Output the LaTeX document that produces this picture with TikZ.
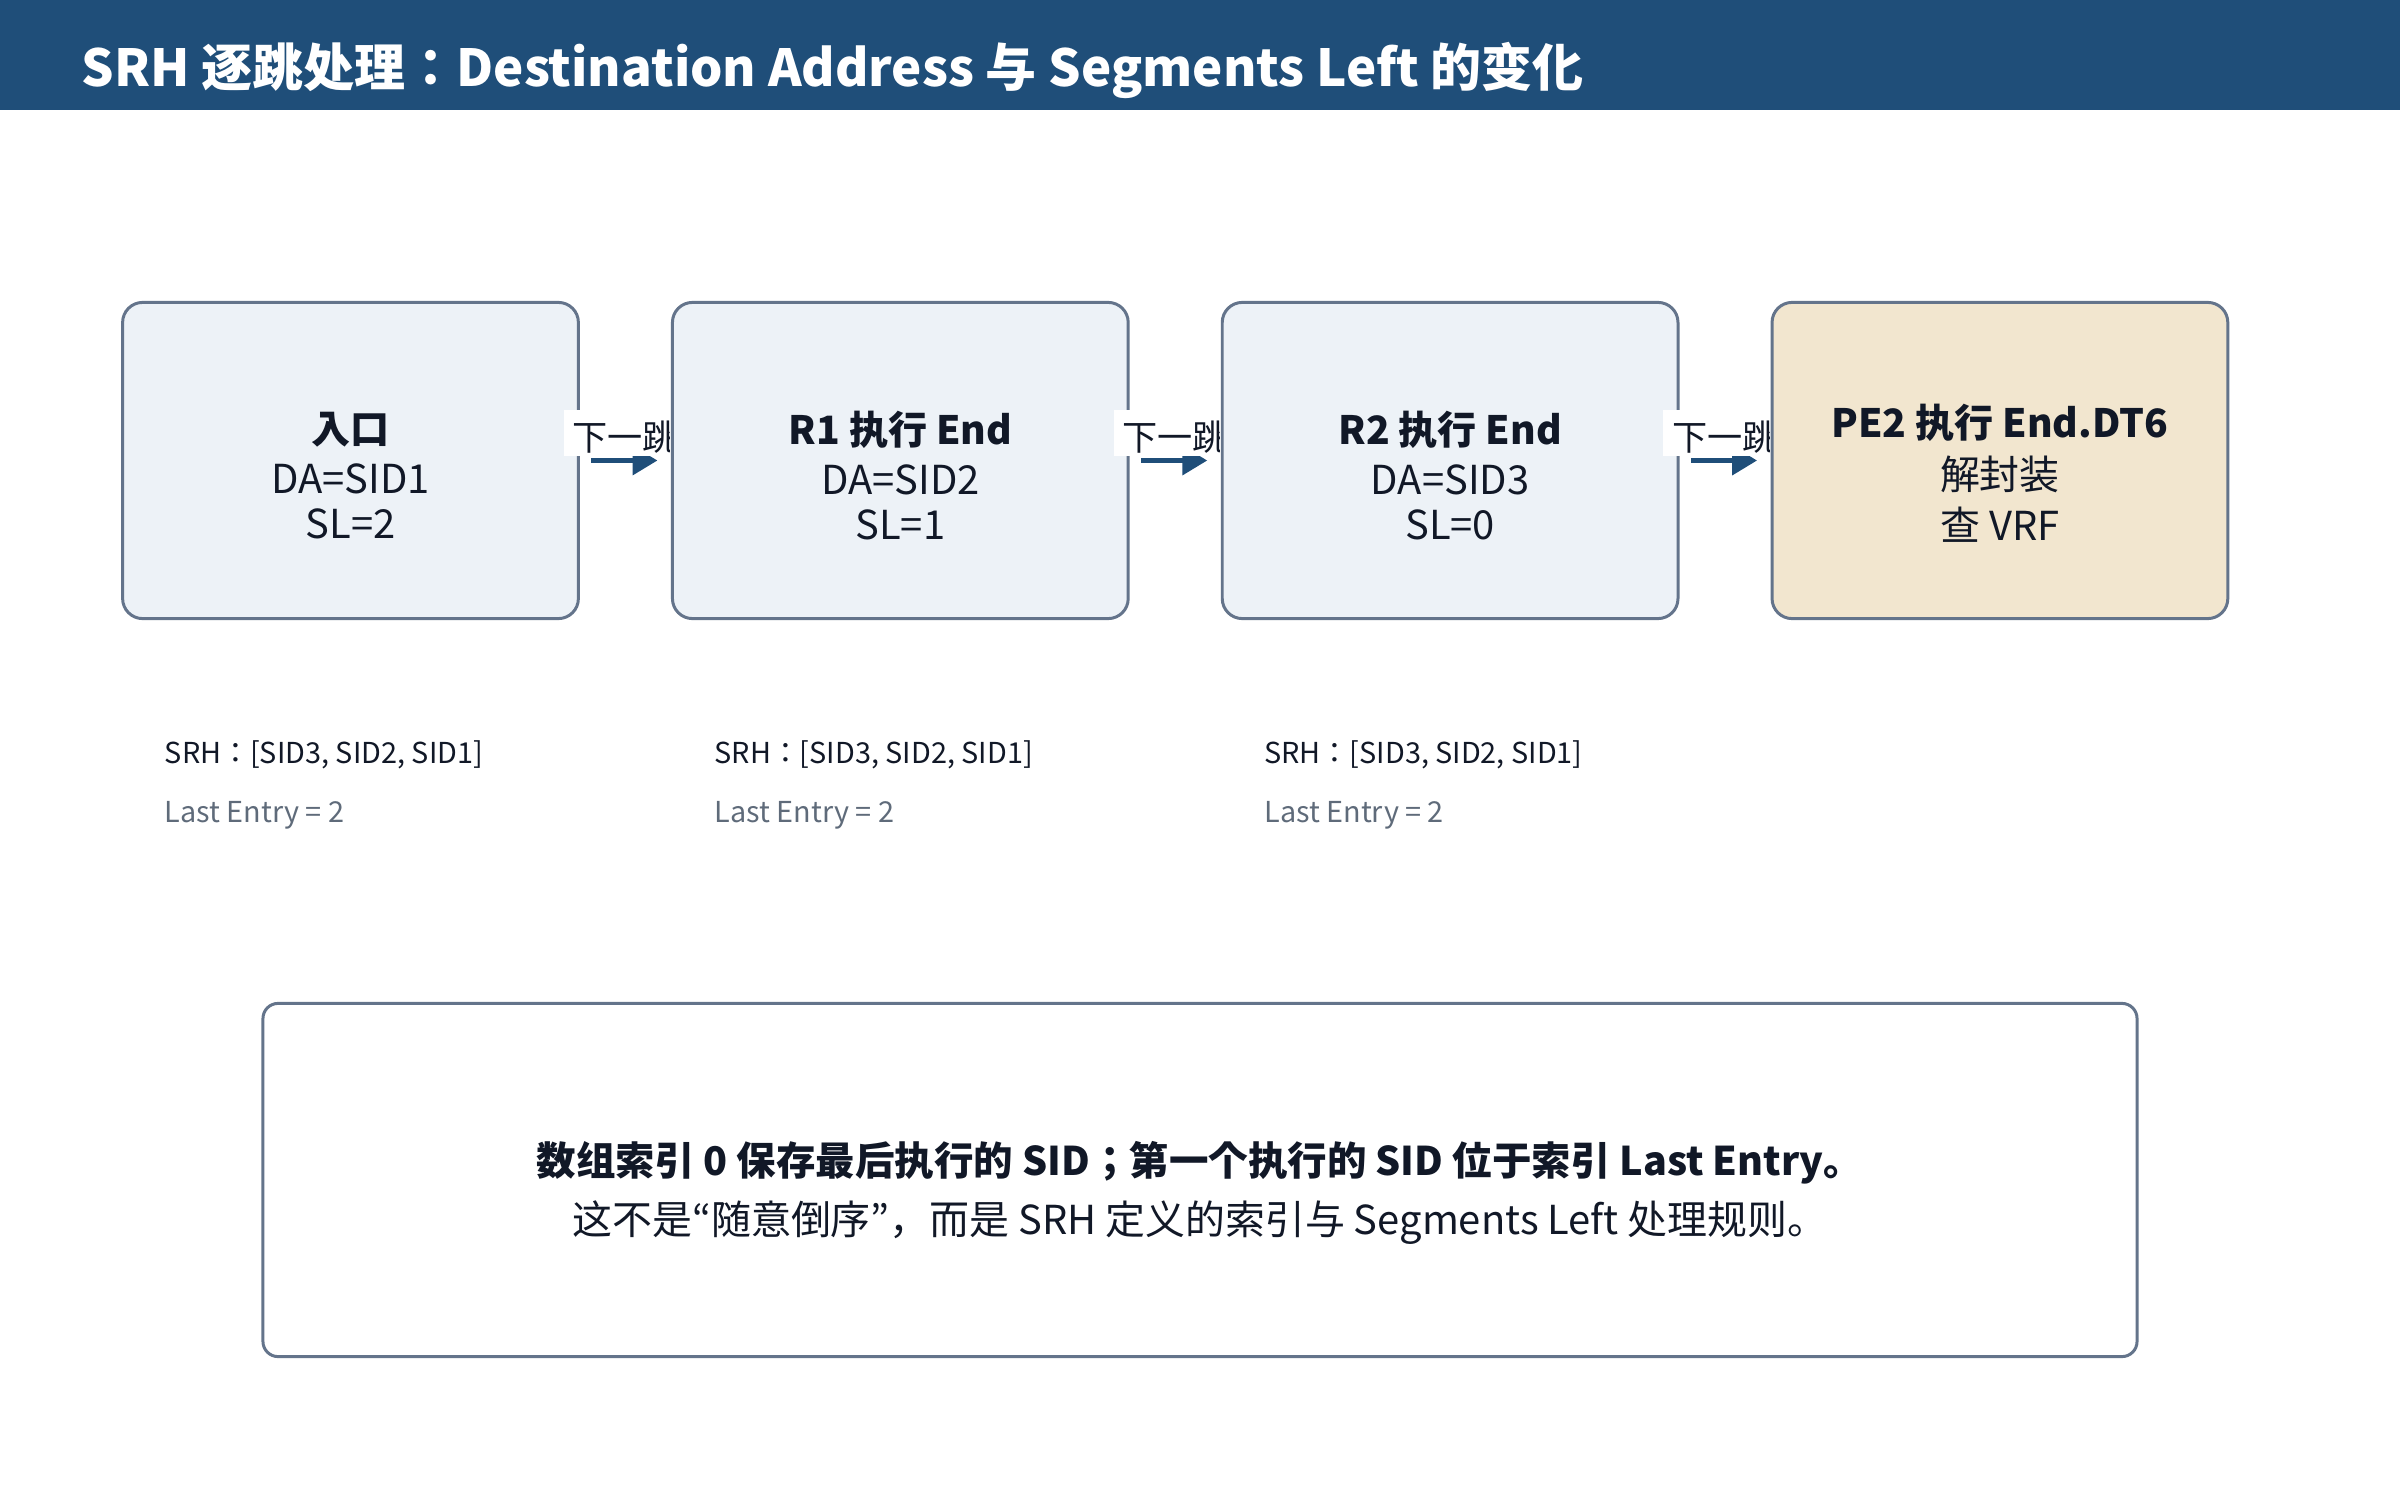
\documentclass[tikz,border=0pt]{standalone}
\usepackage{fontspec}
\setmainfont{Noto Sans CJK JP}
\usetikzlibrary{arrows.meta,positioning}
\definecolor{barblue}{HTML}{1F4E79}
\definecolor{boxfill}{HTML}{EDF2F7}
\definecolor{pefill}{HTML}{F2E6CF}
\definecolor{boxline}{HTML}{64748B}
\definecolor{ink}{HTML}{111827}
\definecolor{muted}{HTML}{5F6B7A}
\newcommand{\hd}[1]{{\fontsize{11.1pt}{13pt}\selectfont\bfseries #1}}

\begin{document}
\begin{tikzpicture}[
 x=0.01cm,y=-0.01cm,
 node distance=9.1mm,
 box/.style={draw=boxline,line width=0.85pt,rounded corners=5.7pt,fill=boxfill,
   minimum width=45.55mm,minimum height=31.6mm},
 pebox/.style={box,fill=pefill},
 boxtxt/.style={align=center,text=ink,inner sep=0pt,font=\fontsize{11.35pt}{12.6pt}\selectfont},
 hop/.style={-{Triangle[length=7.1pt,width=8pt]},line width=1.7pt,draw=barblue,
   shorten <=3.3pt,shorten >=3.8pt},
 hoplbl/.style={fill=white,text=ink,font=\fontsize{10pt}{12pt}\selectfont,outer sep=0pt,
   inner xsep=2.5pt,inner ysep=0pt,text height=11.7pt,text depth=1.4pt,above=1.4pt},
 srh/.style={anchor=west,inner sep=0pt,text=ink,font=\fontsize{8.2pt}{10pt}\selectfont},
 lastent/.style={srh,text=muted},
 note/.style={draw=boxline,line width=0.85pt,rounded corners=4.3pt,fill=white,
   minimum width=187.3mm,minimum height=35.3mm},
 notetxt/.style={align=center,text=ink,inner sep=0pt,font=\fontsize{11.35pt}{16.8pt}\selectfont}
]
\useasboundingbox (0,0) rectangle (2400,1500);

% title bar
\fill[barblue] (0,0) rectangle (2400,110);
\node[anchor=west,inner sep=0pt,text=white,font=\fontsize{14.5pt}{16pt}\selectfont\bfseries]
  (title) at (81,70) {SRH 逐跳处理：Destination Address 与 Segments Left 的变化};

% hops
\node[box] (entry) at (350.5,460.5) {};
\node[boxtxt] (entry-t) at ([yshift=-4.3pt]entry.center) {\hd{入口}\\[1.6pt]DA=SID1\\SL=2};
\node[box,right=of entry] (r1) {};
\node[boxtxt] (r1-t) at ([yshift=-4.3pt]r1.center) {\hd{R1 执行 End}\\[1.6pt]DA=SID2\\SL=1};
\begin{scope}
  \clip (entry.north) rectangle ([xshift=-0.4pt]r1.south west);
  \draw[hop] (entry) -- node[hoplbl] (hop1) {下一跳} (r1);
\end{scope}
\node[box,right=of r1] (r2) {};
\node[boxtxt] (r2-t) at ([yshift=-4.3pt]r2.center) {\hd{R2 执行 End}\\[1.6pt]DA=SID3\\SL=0};
\begin{scope}
  \clip (r1.north) rectangle ([xshift=-0.4pt]r2.south west);
  \draw[hop] (r1) -- node[hoplbl] (hop2) {下一跳} (r2);
\end{scope}
\node[pebox,right=of r2] (pe2) {};
\node[boxtxt] (pe2-t) at ([yshift=-3.6pt]pe2.center) {\hd{PE2 执行 End.DT6}\\[2.3pt]解封装\\[1.7pt]查 VRF};
\begin{scope}
  \clip (r2.north) rectangle ([xshift=-0.4pt]pe2.south west);
  \draw[hop] (r2) -- node[hoplbl] (hop3) {下一跳} (pe2);
\end{scope}

% segment list under each hop
\node[srh] (srh1) at ([shift={(43,135)}]entry.south west) {SRH：[SID3, SID2, SID1]};
\node[lastent] (le1) at ([shift={(0,60)}]srh1.west) {Last Entry = 2};
\node[srh] (srh2) at ([shift={(43,135)}]r1.south west) {SRH：[SID3, SID2, SID1]};
\node[lastent] (le2) at ([shift={(0,60)}]srh2.west) {Last Entry = 2};
\node[srh] (srh3) at ([shift={(43,135)}]r2.south west) {SRH：[SID3, SID2, SID1]};
\node[lastent] (le3) at ([shift={(0,60)}]srh3.west) {Last Entry = 2};

% summary
\node[note] (summary) at (1200,1180) {};
\node[notetxt] (summary-t) at ([yshift=-3.7pt]summary.center)
  {{\fontsize{11.23pt}{16.8pt}\selectfont\bfseries 数组索引 0 保存最后执行的 SID；第一个执行的 SID 位于索引 Last Entry。}\\
   这不是“随意倒序”，而是 SRH 定义的索引与 Segments Left 处理规则。};
\end{tikzpicture}
\end{document}
